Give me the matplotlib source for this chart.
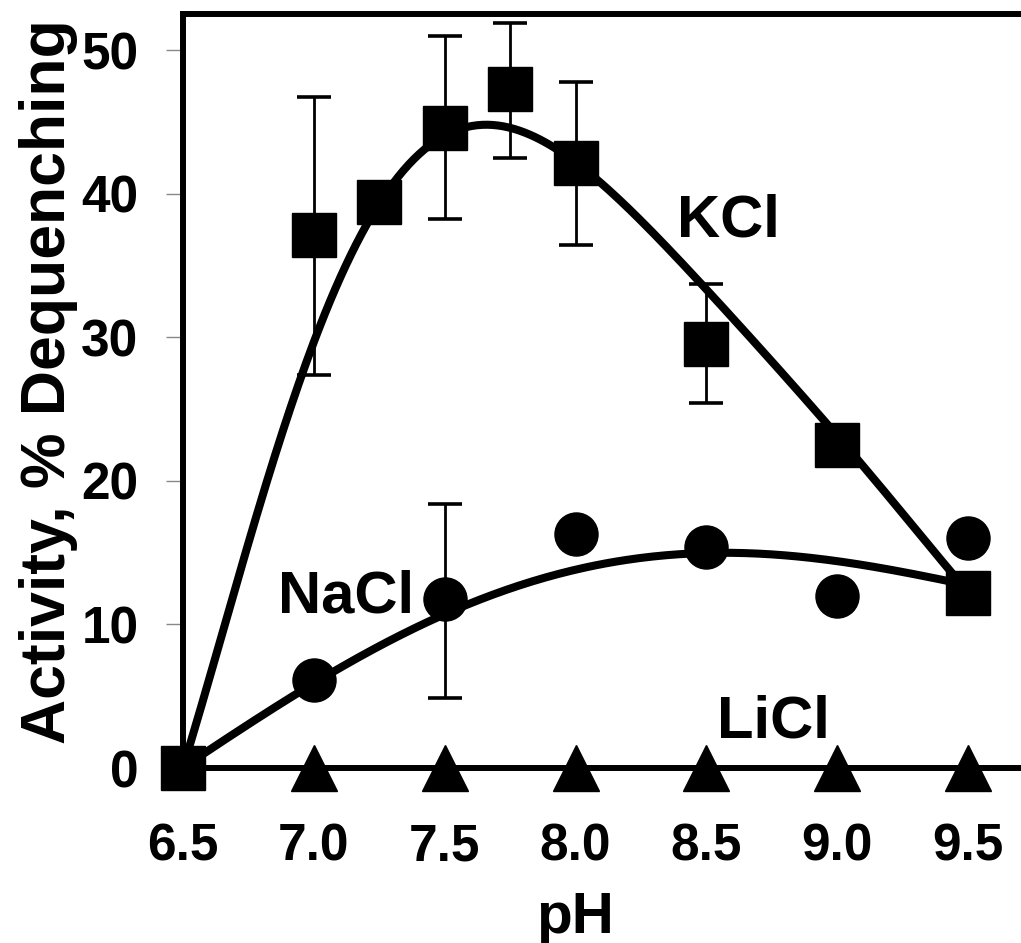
import numpy as np
import matplotlib
matplotlib.use("Agg")
import matplotlib.pyplot as plt

plt.rcParams['font.family'] = ['Liberation Sans', 'DejaVu Sans']
plt.rcParams['font.weight'] = 'bold'

# KCl data (squares)
kcl_ph = [6.5, 7.0, 7.25, 7.5, 7.75, 8.0, 8.5, 9.0, 9.5]
kcl_act = [0.0, 37.1, 39.4, 44.6, 47.3, 42.1, 29.5, 22.5, 12.2]
# error bar ends (upper, lower) for points that have them
kcl_err_ph = [7.0, 7.5, 7.75, 8.0, 8.5]
kcl_err_mean = [37.1, 44.6, 47.3, 42.1, 29.5]
kcl_err_hi = [46.7, 51.0, 51.9, 47.8, 33.7]
kcl_err_lo = [27.4, 38.2, 42.5, 36.4, 25.4]

# NaCl data (circles)
nacl_ph = [6.5, 7.0, 7.5, 8.0, 8.5, 9.0, 9.5]
nacl_act = [0.0, 6.1, 11.8, 16.3, 15.4, 12.0, 16.0]
nacl_err_ph = [7.5]
nacl_err_mean = [11.8]
nacl_err_hi = [18.4]
nacl_err_lo = [4.9]

# LiCl data (triangles)
licl_ph = [7.0, 7.5, 8.0, 8.5, 9.0, 9.5]
licl_act = [0.0, 0.0, 0.0, 0.0, 0.0, 0.0]

# Fitted curves
kcl_fit_ph = [6.5, 6.79, 6.88, 7.0, 7.2, 7.29, 7.43, 7.635, 7.74, 7.86, 8.07, 8.25, 8.35, 8.51, 8.75, 8.98, 9.24, 9.43, 9.5]
kcl_fit_act = [0.0, 18.7, 22.9, 29.2, 37.9, 41.0, 43.1, 44.6, 44.5, 43.7, 41.4, 38.0, 36.1, 33.4, 28.5, 23.1, 18.2, 13.8, 12.2]
nacl_fit_ph = [6.5, 6.615, 7.0, 7.25, 7.5, 7.76, 8.02, 8.49, 8.73, 8.98, 9.24, 9.42, 9.5]
nacl_fit_act = [0.0, 1.5, 5.7, 8.9, 10.6, 12.4, 13.7, 15.3, 15.0, 14.3, 13.5, 13.1, 12.8]

x_ticks = [6.5, 7.0, 7.5, 8.0, 8.5, 9.0, 9.5]
x_tick_labels = ['6.5', '7.0', '7.5', '8.0', '8.5', '9.0', '9.5']
y_ticks = [0, 10, 20, 30, 40, 50]

W, H = 1021, 943
fig = plt.figure(figsize=(W / 100, H / 100), dpi=100)
ax = fig.add_axes([183 / W, 175 / H, (W - 183) / W, (768 - 14) / H])

# smooth curves through read points
def smooth(xs, ys, deg):
    c = np.polyfit(xs, ys, deg)
    xx = np.linspace(min(xs), max(xs), 300)
    return xx, np.polyval(c, xx)

xx, yy = smooth(kcl_fit_ph, kcl_fit_act, 6)
ax.plot(xx, yy, color='black', lw=5.8, solid_capstyle='butt', zorder=2, clip_on=False)
xx, yy = smooth(nacl_fit_ph, nacl_fit_act, 4)
ax.plot(xx, yy, color='black', lw=5.8, solid_capstyle='butt', zorder=2, clip_on=False)

def errbars(px, m, hi, lo):
    m = np.array(m); hi = np.array(hi); lo = np.array(lo)
    ax.errorbar(px, m, yerr=[m - lo, hi - m], fmt='none', ecolor='black',
                elinewidth=2.0, capsize=12, capthick=2.6, zorder=3, clip_on=False)

errbars(kcl_err_ph, kcl_err_mean, kcl_err_hi, kcl_err_lo)
errbars(nacl_err_ph, nacl_err_mean, nacl_err_hi, nacl_err_lo)

ax.plot(nacl_ph, nacl_act, 'o', color='black', ms=31, zorder=4, clip_on=False)
ax.plot(kcl_ph, kcl_act, 's', color='black', ms=31, zorder=5, clip_on=False)
ax.plot(licl_ph, licl_act, '^', color='black', ms=33, zorder=5, clip_on=False)

xmax = 6.5 + 3.0 * (W - 183) / (968 - 183)
ax.set_xlim(6.5, xmax)
ax.set_ylim(0, 50 + (50 - 14) / ((768 - 50) / 50))

ax.set_xticks(x_ticks)
ax.set_xticklabels(x_tick_labels, fontsize=37, fontweight='bold')
ax.set_yticks(y_ticks)
ax.set_yticklabels([str(v) for v in y_ticks], fontsize=37, fontweight='bold')
ax.tick_params(axis='x', length=0, pad=39)
ax.tick_params(axis='y', length=12, width=1.0, color='#888888', pad=20)

for s in ['left', 'top', 'bottom']:
    ax.spines[s].set_linewidth(4.3)
    ax.spines[s].set_color('black')
ax.spines['right'].set_visible(False)

ax.text(8.586, 38.1, 'KCl', fontsize=43, fontweight='bold', ha='center', va='center')
ax.text(7.123, 11.9, 'NaCl', fontsize=43, fontweight='bold', ha='center', va='center')
ax.text(8.758, 3.2, 'LiCl', fontsize=43, fontweight='bold', ha='center', va='center')

fig.text(49 / W, 1 - 382 / H, 'Activity, % Dequenching', rotation=90, fontsize=45,
         fontweight='bold', ha='center', va='center')
fig.text(575 / W, 1 - 918 / H, 'pH', fontsize=42, fontweight='bold', ha='center', va='center')

fig.savefig('out.png', dpi=100)
